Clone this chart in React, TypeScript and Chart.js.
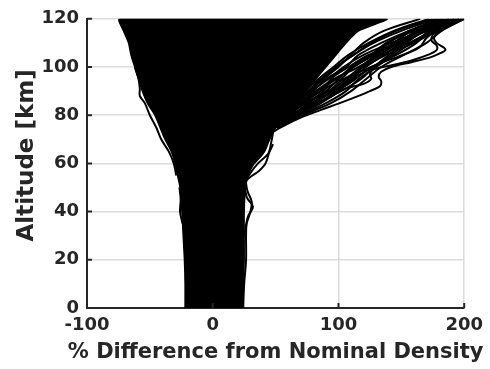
import React, { useEffect, useRef } from 'react';
import { Chart, registerables } from 'chart.js';

Chart.register(...registerables);

// Envelope of the dense bundle of profiles
const ALT_ENV = [0, 10, 20, 30, 40, 50, 55, 60, 65, 70, 75, 80, 85, 90, 95, 100, 105, 110, 115, 120];
const ENV_LEFT = [-22, -22, -22.5, -23.5, -24.5, -26, -28, -30, -33, -38, -42, -46, -52, -56, -59, -62, -65, -67, -71, -74];
const ENV_RIGHT = [24.5, 24.5, 25, 25, 25, 26, 28, 33, 40, 45, 50, 57, 66, 74, 82, 90, 98, 106, 116, 138];

// Distinct outlying profiles
const ALT_A = [60, 65, 70, 73, 76, 79, 82, 85, 88, 90, 92, 94, 96, 98, 100, 102, 104, 106, 107, 108, 110, 112, 115, 118, 120];
const OUT_A = [33, 41, 45, 48, 58, 70, 85, 101, 116, 125, 133, 134, 132, 134, 142, 158, 173, 182, 185, 184, 178, 176, 180, 192, 200];
const ALT_B = [60, 65, 70, 73, 76, 79, 82, 85, 88, 91, 93, 95, 97, 99, 101, 103, 105, 107, 109, 111, 114, 117, 120];
const OUT_B = [32, 40, 44, 47, 52, 60, 72, 84, 95, 105, 120, 126, 125, 128, 145, 160, 171, 178, 178, 174, 176, 188, 198];
const ALT_C = [65, 70, 75, 78, 81, 84, 87, 90, 93, 96, 100, 104, 108, 112, 116, 120];
const OUT_C = [40, 44, 47, 55, 65, 80, 90, 98, 108, 116, 126, 146, 164, 170, 180, 196];

const ALT_R1 = [0, 10, 20, 30, 35, 40, 44, 48, 50, 53, 57, 60, 65, 70, 73];
const OUT_R1 = [24, 25, 26.5, 26.5, 27, 30, 31, 28, 27, 27, 37, 42, 45, 47, 48];
const ALT_R2 = [30, 38, 42, 46, 52, 56, 60, 64, 68];
const OUT_R2 = [25, 28, 32, 27, 26, 30, 36, 44, 48];

const ALT_L1 = [55, 60, 65, 70, 75, 80, 85, 88, 91, 95, 100];
const OUT_L1 = [-29, -31, -35, -41, -45, -50, -54, -58, -58, -59, -62];
const ALT_L2 = [35, 40, 45, 50];
const OUT_L2 = [-24, -26, -25.5, -26.5];

// Tangled profiles in the upper atmosphere
const ALT_UP = [75, 80, 85, 90, 95, 100, 105, 110, 115, 120];
const MESH = [
  [48, 58, 70, 84, 98, 112, 128, 148, 170, 196],
  [50, 64, 80, 96, 108, 120, 138, 160, 178, 199],
  [47, 56, 66, 78, 92, 104, 120, 142, 166, 190],
  [49, 60, 74, 92, 104, 126, 146, 162, 172, 194],
  [46, 57, 68, 80, 90, 106, 116, 134, 156, 184],
  [50, 68, 86, 100, 110, 122, 136, 150, 164, 192],
  [47, 58, 66, 76, 86, 98, 112, 128, 150, 178],
  [51, 70, 90, 106, 116, 130, 144, 158, 174, 198],
  [48, 60, 72, 86, 102, 112, 128, 140, 156, 182],
  [52, 72, 94, 110, 122, 134, 152, 170, 182, 200],
  [48, 62, 78, 96, 110, 128, 142, 154, 168, 188],
  [47, 58, 70, 82, 96, 116, 132, 148, 162, 186],
  [46, 56, 66, 74, 84, 96, 108, 124, 144, 172],
  [50, 66, 82, 94, 106, 118, 134, 156, 176, 196],
  [49, 64, 76, 90, 100, 110, 126, 138, 160, 188],
  [51, 68, 84, 102, 118, 128, 140, 152, 170, 194],
  [48, 59, 74, 88, 94, 108, 124, 146, 166, 192],
  [50, 62, 72, 98, 112, 118, 130, 144, 158, 180],
  [47, 56, 67, 77, 88, 100, 110, 120, 136, 165],
  [46, 55, 64, 76, 88, 98, 112, 126, 146, 175],
];

const X_TICKS = [-100, 0, 100, 200];
const Y_TICKS = [0, 20, 40, 60, 80, 100, 120];

const AXIS_COLOR = '#262626';
const FONT = 'DejaVu Sans';

function pts(xs: number[], ys: number[]) {
  return xs.map((x, i) => ({ x, y: ys[i] }));
}

function lineDs(xs: number[], ys: number[]) {
  return {
    data: pts(xs, ys),
    showLine: true,
    borderColor: '#000',
    borderWidth: 2,
    pointRadius: 0,
    tension: 0.35,
    fill: false,
  };
}

const axisPlugin = {
  id: 'matlabAxes',
  afterDraw(chart: any) {
    const { ctx, chartArea, scales } = chart;
    const { left, bottom, top, right } = chartArea;
    ctx.save();
    ctx.strokeStyle = AXIS_COLOR;
    ctx.lineWidth = 2;
    ctx.beginPath();
    Y_TICKS.forEach((v) => {
      const py = scales.y.getPixelForValue(v);
      ctx.moveTo(left, py);
      ctx.lineTo(left + 5, py);
    });
    X_TICKS.forEach((v) => {
      const px = scales.x.getPixelForValue(v);
      ctx.moveTo(px, bottom);
      ctx.lineTo(px, bottom - 5);
    });
    ctx.stroke();
    ctx.fillStyle = AXIS_COLOR;
    ctx.font = `bold 21px "${FONT}"`;
    ctx.textAlign = 'center';
    ctx.textBaseline = 'alphabetic';
    ctx.fillText('% Difference from Nominal Density', (left + right) / 2, 358);
    ctx.font = `bold 23px "${FONT}"`;
    ctx.translate(27, (top + bottom) / 2 - 8);
    ctx.rotate(-Math.PI / 2);
    ctx.textBaseline = 'middle';
    ctx.fillText('Altitude [km]', 0, 0);
    ctx.restore();
  },
};

export default function App() {
  const ref = useRef<HTMLCanvasElement>(null);
  useEffect(() => {
    document.body.style.margin = '0';
    const envX = [...ENV_LEFT, ...ENV_RIGHT.slice().reverse()];
    const envY = [...ALT_ENV, ...ALT_ENV.slice().reverse()];
    const datasets: any[] = [
      {
        data: pts(envX, envY),
        showLine: true,
        borderColor: '#000',
        backgroundColor: '#000',
        borderWidth: 1.5,
        pointRadius: 0,
        tension: 0.25,
        fill: 'shape',
      },
      lineDs(OUT_A, ALT_A),
      lineDs(OUT_B, ALT_B),
      lineDs(OUT_C, ALT_C),
      lineDs(OUT_R1, ALT_R1),
      lineDs(OUT_R2, ALT_R2),
      lineDs(OUT_L1, ALT_L1),
      lineDs(OUT_L2, ALT_L2),
      ...MESH.map((m) => lineDs(m, ALT_UP)),
    ];
    const chart = new Chart(ref.current!, {
      type: 'scatter',
      data: { datasets },
      plugins: [axisPlugin],
      options: {
        animation: false,
        responsive: false,
        devicePixelRatio: 1,
        layout: { padding: { left: 0, top: 16, right: 25, bottom: 0 } },
        plugins: { legend: { display: false }, tooltip: { enabled: false } },
        scales: {
          x: {
            type: 'linear',
            min: -100,
            max: 200,
            afterBuildTicks: (s: any) => { s.ticks = X_TICKS.map((v) => ({ value: v })); },
            afterFit: (s: any) => { s.height = 61; },
            ticks: { color: AXIS_COLOR, font: { family: FONT, size: 18, weight: 'bold' }, padding: 7 },
            grid: { color: '#dcdcdc', lineWidth: 1.5, drawTicks: false },
            border: { display: true, color: AXIS_COLOR, width: 2 },
          },
          y: {
            type: 'linear',
            min: 0,
            max: 120,
            afterBuildTicks: (s: any) => { s.ticks = Y_TICKS.map((v) => ({ value: v })); },
            afterFit: (s: any) => { s.width = 87; },
            ticks: { color: AXIS_COLOR, font: { family: FONT, size: 18, weight: 'bold' }, padding: 8 },
            grid: { color: '#dcdcdc', lineWidth: 1.5, drawTicks: false },
            border: { display: true, color: AXIS_COLOR, width: 2 },
          },
        },
      } as any,
    });
    return () => chart.destroy();
  }, []);
  return (
    <div style={{ width: 490, height: 369 }}>
      <canvas ref={ref} width={490} height={369} />
    </div>
  );
}
